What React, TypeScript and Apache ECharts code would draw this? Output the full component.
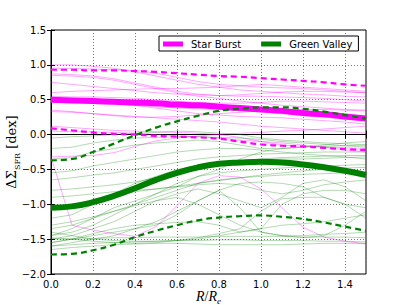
import React, { useEffect, useRef } from "react";
import * as echarts from "echarts";

const xs = [0, 0.1, 0.2, 0.3, 0.4, 0.5, 0.6, 0.7, 0.8, 0.9, 1.0, 1.1, 1.2, 1.3, 1.4, 1.5];

const starBurstMean = [0.50, 0.49, 0.48, 0.47, 0.46, 0.45, 0.43, 0.42, 0.40, 0.38, 0.36, 0.34, 0.31, 0.29, 0.26, 0.23];
const starBurstUpper = [0.93, 0.93, 0.92, 0.92, 0.91, 0.90, 0.88, 0.86, 0.84, 0.83, 0.81, 0.79, 0.77, 0.75, 0.72, 0.70];
const starBurstLower = [0.09, 0.06, 0.03, 0.01, 0.00, -0.02, -0.03, -0.04, -0.06, -0.10, -0.14, -0.16, -0.17, -0.19, -0.21, -0.22];

const greenValleyMean = [-1.05, -1.03, -0.97, -0.88, -0.77, -0.65, -0.55, -0.47, -0.42, -0.40, -0.39, -0.40, -0.43, -0.47, -0.52, -0.58];
const greenValleyUpper = [-0.37, -0.35, -0.25, -0.13, -0.01, 0.10, 0.19, 0.27, 0.34, 0.37, 0.39, 0.39, 0.37, 0.33, 0.28, 0.23];
const greenValleyLower = [-1.72, -1.71, -1.66, -1.58, -1.47, -1.38, -1.30, -1.23, -1.19, -1.17, -1.16, -1.18, -1.21, -1.26, -1.32, -1.38];

const starBurstGalaxies = [
  [1.00, 1.00, 0.98, 0.95, 0.90, 0.84, 0.78, 0.72, 0.68, 0.64, 0.62, 0.60, 0.58, 0.57, 0.55, 0.54],
  [0.87, 0.86, 0.84, 0.80, 0.74, 0.68, 0.62, 0.58, 0.56, 0.55, 0.55, 0.54, 0.53, 0.52, 0.50, 0.48],
  [0.85, 0.84, 0.82, 0.78, 0.72, 0.66, 0.60, 0.55, 0.52, 0.48, 0.45, 0.42, 0.40, 0.38, 0.36, 0.35],
  [0.75, 0.72, 0.69, 0.66, 0.63, 0.60, 0.58, 0.57, 0.56, 0.57, 0.59, 0.61, 0.62, 0.62, 0.61, 0.60],
  [0.55, 0.54, 0.54, 0.53, 0.52, 0.50, 0.48, 0.46, 0.45, 0.45, 0.46, 0.48, 0.48, 0.47, 0.46, 0.45],
  [0.52, 0.50, 0.48, 0.45, 0.42, 0.38, 0.34, 0.30, 0.28, 0.26, 0.25, 0.24, 0.22, 0.20, 0.18, 0.15],
  [0.35, 0.33, 0.30, 0.27, 0.25, 0.25, 0.26, 0.28, 0.30, 0.32, 0.34, 0.35, 0.36, 0.36, 0.35, 0.34],
  [0.33, 0.32, 0.30, 0.28, 0.26, 0.24, 0.22, 0.20, 0.18, 0.15, 0.12, 0.10, 0.08, 0.06, 0.04, 0.02],
  [0.12, 0.10, 0.08, 0.06, 0.05, 0.04, 0.03, 0.02, 0.00, -0.04, -0.10, -0.15, -0.17, -0.18, -0.19, -0.20],
  [0.60, 0.62, 0.63, 0.64, 0.65, 0.66, 0.66, 0.67, 0.68, 0.70, 0.72, 0.70, 0.68, 0.66, 0.64, 0.62],
  [-0.32, -1.30, -1.37, -1.42, -1.46, -1.32, -1.02, -0.70, -0.59, -0.61, -0.78, -1.05, -1.33, -1.47, -1.53, -1.57],
  [-0.32, -0.31, -0.30, -0.26, -0.17, -0.09, -0.05, -0.02, 0.00, 0.02, 0.03, 0.05, 0.06, 0.08, 0.10, 0.12],
  [0.05, 0.04, 0.04, 0.03, 0.02, 0.00, -0.02, -0.03, -0.05, -0.08, -0.10, -0.12, -0.15, -0.18, -0.22, -0.25],
  [0.95, 0.95, 0.94, 0.93, 0.92, 0.88, 0.82, 0.76, 0.72, 0.70, 0.68, 0.67, 0.66, 0.64, 0.62, 0.60],
  [0.48, 0.47, 0.46, 0.44, 0.42, 0.40, 0.38, 0.37, 0.36, 0.35, 0.33, 0.30, 0.28, 0.25, 0.22, 0.20],
];

const greenValleyGalaxies = [
  [-0.05, -0.03, -0.02, 0.00, 0.02, 0.03, 0.05, 0.04, 0.02, 0.00, -0.05, -0.08, -0.10, -0.12, -0.13, -0.15],
  [-0.35, -0.33, -0.25, -0.20, -0.15, -0.12, -0.10, -0.08, -0.10, -0.15, -0.20, -0.20, -0.18, -0.15, -0.12, -0.10],
  [-0.55, -0.52, -0.45, -0.40, -0.35, -0.30, -0.25, -0.22, -0.20, -0.20, -0.22, -0.25, -0.28, -0.30, -0.32, -0.35],
  [-0.65, -0.62, -0.58, -0.55, -0.50, -0.45, -0.40, -0.35, -0.32, -0.30, -0.28, -0.27, -0.26, -0.25, -0.25, -0.25],
  [-0.80, -0.78, -0.75, -0.72, -0.68, -0.62, -0.55, -0.48, -0.42, -0.38, -0.35, -0.33, -0.32, -0.31, -0.30, -0.30],
  [-1.20, -1.15, -1.00, -0.85, -0.70, -0.60, -0.50, -0.45, -0.40, -0.38, -0.36, -0.35, -0.35, -0.34, -0.33, -0.32],
  [-1.45, -1.40, -1.30, -1.15, -1.00, -0.85, -0.70, -0.60, -0.55, -0.52, -0.50, -0.48, -0.46, -0.45, -0.44, -0.43],
  [-1.50, -1.45, -1.35, -1.25, -1.10, -0.95, -0.85, -0.78, -0.85, -0.95, -1.05, -0.90, -0.70, -0.65, -0.75, -0.95],
  [-1.55, -1.50, -1.45, -1.40, -1.35, -1.30, -1.15, -0.95, -0.80, -1.05, -1.40, -1.45, -1.48, -1.45, -1.30, -1.10],
  [-1.60, -1.58, -1.56, -1.55, -1.54, -1.53, -1.52, -1.52, -1.51, -1.51, -1.52, -1.52, -1.52, -1.53, -1.53, -1.54],
  [-1.50, -1.50, -1.49, -1.48, -1.48, -1.47, -1.47, -1.47, -1.46, -1.46, -1.46, -1.46, -1.47, -1.47, -1.47, -1.48],
  [-1.65, -1.62, -1.60, -1.58, -1.57, -1.56, -1.56, -1.57, -1.58, -1.58, -1.58, -1.58, -1.57, -1.56, -1.56, -1.56],
  [-1.40, -1.45, -1.50, -1.52, -1.53, -1.53, -1.52, -1.50, -1.45, -1.40, -1.35, -1.30, -1.28, -1.25, -1.20, -1.15],
  [-1.35, -1.30, -1.20, -1.10, -1.00, -0.90, -0.80, -0.70, -0.65, -0.62, -0.60, -0.58, -0.57, -0.56, -0.55, -0.55],
  [-0.90, -0.88, -0.85, -0.82, -0.80, -0.78, -0.75, -0.72, -0.70, -0.72, -0.80, -0.85, -0.80, -0.72, -0.68, -0.65],
  [-1.45, -1.35, -1.20, -1.05, -0.95, -0.85, -0.75, -0.60, -0.50, -0.35, -0.25, -0.20, -0.18, -0.17, -0.16, -0.15],
  [-1.55, -1.50, -1.42, -1.35, -1.30, -1.28, -1.26, -1.25, -1.30, -1.40, -1.35, -1.00, -0.85, -0.80, -0.80, -0.85],
  [-1.60, -1.55, -1.50, -1.45, -1.35, -1.25, -1.10, -0.95, -0.80, -0.70, -0.68, -0.70, -0.75, -0.90, -1.00, -1.05],
  [-1.05, -1.00, -0.95, -0.88, -0.82, -0.78, -0.74, -0.70, -0.66, -0.62, -0.58, -0.55, -0.52, -0.50, -0.48, -0.47],
  [-0.20, -0.18, -0.12, -0.08, -0.05, -0.04, -0.03, -0.03, -0.04, -0.05, -0.07, -0.10, -0.12, -0.14, -0.16, -0.18],
  [-1.48, -1.50, -1.53, -1.55, -1.56, -1.55, -1.52, -1.48, -1.42, -1.35, -1.10, -0.92, -0.90, -0.90, -1.00, -1.20],
  [-1.30, -1.25, -1.18, -1.10, -1.02, -0.95, -0.90, -1.00, -1.15, -1.30, -1.40, -1.45, -1.45, -1.43, -1.42, -1.40],
];

const legendLabels = ["Star Burst", "Green Valley"];
const MAGENTA = "#ff00ff";
const GREEN = "#008000";

const pairs = (ys: number[]) => ys.map((y, i) => [xs[i], y]);
const fmt = (v: number) => v.toFixed(1).replace("-", "\u2212");

export default function App() {
  const ref = useRef<HTMLDivElement>(null);
  useEffect(() => {
    document.body.style.margin = "0";
    if (!ref.current) return;
    const chart = echarts.init(ref.current, undefined, { renderer: "svg" });

    const thin = (ys: number[], color: string, opacity: number) => ({
      type: "line",
      data: pairs(ys),
      symbol: "none",
      silent: true,
      lineStyle: { color, width: 1, opacity },
      z: 1,
    });
    const dashed = (ys: number[], color: string) => ({
      type: "line",
      data: pairs(ys),
      symbol: "none",
      smooth: true,
      lineStyle: { color, width: 2.2, type: [6, 4] },
      z: 4,
    });

    const series: any[] = [];
    starBurstGalaxies.forEach((g) => series.push(thin(g, MAGENTA, 0.35)));
    greenValleyGalaxies.forEach((g) => series.push(thin(g, GREEN, 0.3)));
    series.push({
      name: legendLabels[0],
      type: "line",
      data: pairs(starBurstMean),
      symbol: "none",
      smooth: true,
      lineStyle: { color: MAGENTA, width: 6 },
      itemStyle: { color: MAGENTA },
      z: 3,
    });
    series.push({
      name: legendLabels[1],
      type: "line",
      data: pairs(greenValleyMean),
      symbol: "none",
      smooth: true,
      lineStyle: { color: GREEN, width: 6 },
      itemStyle: { color: GREEN },
      z: 3,
    });
    series.push(dashed(starBurstUpper, MAGENTA));
    series.push(dashed(starBurstLower, MAGENTA));
    series.push(dashed(greenValleyUpper, GREEN));
    series.push(dashed(greenValleyLower, GREEN));

    const splitLine = { show: true, lineStyle: { color: "#777", width: 1, type: [1, 2] } };
    const tick = { show: true, inside: true, length: 4, lineStyle: { color: "#000", width: 1 } };

    chart.setOption({
      animation: false,
      grid: {
        left: 51,
        right: 41,
        top: 30,
        bottom: 31,
        outerBoundsMode: "none",
        containLabel: false,
        show: true,
        borderColor: "#000",
        borderWidth: 1,
        backgroundColor: "transparent",
      },
      legend: {
        data: legendLabels,
        left: 159,
        top: 36,
        icon: "rect",
        itemWidth: 20,
        itemHeight: 5,
        itemGap: 20,
        padding: [3, 6, 2, 4],
        backgroundColor: "#fff",
        borderColor: "#000",
        borderWidth: 1,
        borderRadius: 0,
        textStyle: { fontFamily: "DejaVu Sans", fontSize: 10, color: "#000", padding: [0, 0, 0, 3] },
        z: 10,
      },
      xAxis: [
        {
          type: "value",
          min: 0,
          max: 1.5,
          interval: 0.2,
          axisLine: { show: true, lineStyle: { color: "#000" } },
          axisTick: tick,
          splitLine,
          axisLabel: {
            color: "#000",
            fontFamily: "DejaVu Sans",
            fontSize: 10,
            margin: 5,
            formatter: (v: number) => (v > 1.45 ? "" : fmt(v)),
          },
          name: "{i|R}{n|/}{i|R}{s|e}",
          nameLocation: "middle",
          nameGap: 13,
          nameMoveOverlap: false,
          nameTextStyle: {
            rich: {
              i: { fontFamily: "Liberation Serif", fontStyle: "italic", fontSize: 14, color: "#000", lineHeight: 14 },
              n: { fontFamily: "Liberation Serif", fontSize: 14, color: "#000", lineHeight: 14 },
              s: { fontFamily: "Liberation Serif", fontStyle: "italic", fontSize: 9, color: "#000", verticalAlign: "bottom", lineHeight: 18 },
            },
          },
        },
        {
          type: "value",
          position: "top",
          min: 0,
          max: 1.5,
          interval: 0.2,
          axisLine: { show: false },
          axisTick: tick,
          splitLine: { show: false },
          axisLabel: { show: false },
        },
      ],
      yAxis: [
        {
          type: "value",
          min: -2,
          max: 1.5,
          interval: 0.5,
          axisLine: { show: true, lineStyle: { color: "#000" } },
          axisTick: tick,
          splitLine,
          axisLabel: {
            color: "#000",
            fontFamily: "DejaVu Sans",
            fontSize: 10,
            margin: 5,
            formatter: (v: number) => fmt(v),
          },
          name: "{a|\u0394\u03a3}{s|SFR}{a| [dex]}",
          nameLocation: "middle",
          nameRotate: 90,
          nameGap: 30,
          nameMoveOverlap: false,
          nameTextStyle: {
            rich: {
              a: { fontFamily: "DejaVu Serif", fontSize: 13, color: "#000" },
              s: { fontFamily: "DejaVu Serif", fontSize: 8, color: "#000", verticalAlign: "bottom", lineHeight: 20 },
            },
          },
        },
        {
          type: "value",
          position: "right",
          min: -2,
          max: 1.5,
          interval: 0.5,
          axisLine: { show: false },
          axisTick: tick,
          splitLine: { show: false },
          axisLabel: { show: false },
        },
      ],
      series,
    });
    return () => chart.dispose();
  }, []);
  return <div ref={ref} style={{ width: 407, height: 305 }} />;
}
